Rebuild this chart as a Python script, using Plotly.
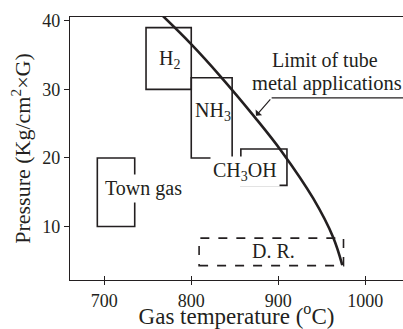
import plotly.graph_objects as go

# Operating windows of the reforming processes (gas temperature in °C, pressure in kg/cm2 G)
process_names = ["Town gas", "H<sub>2</sub>", "NH<sub>3</sub>", "CH<sub>3</sub>OH", "D. R."]
temp_low = [692, 748, 800, 857, 809]
temp_high = [735, 800, 847, 910, 975]
press_low = [10.0, 30.0, 20.0, 16.0, 4.3]
press_high = [20.0, 39.0, 31.7, 21.3, 8.3]
box_dash = ["solid", "solid", "solid", "solid", "dash"]

# Label anchor points for each window
label_x = [745, 775.5, 824.6, 861.4, 894.3]
label_y = [15.5, 34.3, 26.8, 18.0, 6.4]
label_bg = ["white", "rgba(0,0,0,0)", "rgba(0,0,0,0)", "white", "rgba(0,0,0,0)"]

# Limit of tube metal applications
limit_temp = [767.1, 799.3, 833.0, 873.2, 903.9, 940.2, 963.2, 973.6]
limit_press = [40.73, 36.67, 31.98, 25.92, 20.95, 14.09, 8.40, 4.37]

x_ticks = [700, 800, 900, 1000]
y_ticks = [10, 20, 30, 40]
x_range = [660.6, 1043.4]
y_range = [2.2, 40.55]

INK = "#231f20"
FONT = "Liberation Serif"

fig = go.Figure()

fig.add_trace(go.Scatter(
    x=limit_temp, y=limit_press, mode="lines",
    line=dict(color=INK, width=2.6, shape="spline", smoothing=1.0),
    cliponaxis=False, showlegend=False, hoverinfo="skip",
))
# invisible trace so the inner-tick overlay axis is drawn
fig.add_trace(go.Scatter(x=x_range, y=y_range, xaxis="x2", mode="markers",
                         marker=dict(opacity=0), showlegend=False, hoverinfo="skip"))

for x0, x1, y0, y1, d in zip(temp_low, temp_high, press_low, press_high, box_dash):
    fig.add_shape(type="rect", xref="x", yref="y", x0=x0, x1=x1, y0=y0, y1=y1,
                  line=dict(color=INK, width=1.6, dash=d), fillcolor="rgba(0,0,0,0)")

for name, lx, ly, bg in zip(process_names, label_x, label_y, label_bg):
    fig.add_annotation(x=lx, y=ly, xref="x", yref="y", text=name, showarrow=False,
                       font=dict(family=FONT, size=20, color=INK),
                       bgcolor=bg, borderpad=2)

# Curve caption with leader line and arrow
fig.add_annotation(x=953.7, y=34.3, xref="x", yref="y", text="Limit of tube",
                   showarrow=False, font=dict(family=FONT, size=20, color=INK))
fig.add_annotation(x=867.5, y=30.9, xref="x", yref="y", text="metal applications",
                   xanchor="left", showarrow=False,
                   font=dict(family=FONT, size=20.5, color=INK))
fig.add_shape(type="line", xref="x", yref="y", x0=892.4, x1=1043.4, y0=28.76, y1=28.76,
              line=dict(color=INK, width=1.2))
fig.add_annotation(x=874.4, y=26.16, ax=892.4, ay=28.76, xref="x", yref="y",
                   axref="x", ayref="y", text="", showarrow=True,
                   arrowhead=1, arrowsize=1.2, arrowwidth=1.2, arrowcolor=INK)

fig.update_layout(
    width=403, height=329,
    margin=dict(l=70, r=0, t=17, b=42),
    paper_bgcolor="white", plot_bgcolor="white",
    font=dict(family=FONT, color=INK),
    showlegend=False,
    xaxis=dict(
        range=x_range, tickvals=x_ticks, ticks="outside", ticklen=4, tickwidth=1.3,
        tickcolor=INK, showline=True, linecolor=INK, linewidth=1.3, mirror=True,
        showgrid=False, zeroline=False, tickfont=dict(size=18),
        title=dict(text="Gas temperature (<sup>o</sup>C)", font=dict(size=23), standoff=2),
    ),
    xaxis2=dict(
        range=x_range, tickvals=x_ticks, ticks="inside", ticklen=4, tickwidth=1.3,
        tickcolor=INK, showticklabels=False, showline=False, showgrid=False,
        zeroline=False, overlaying="x", anchor="y",
    ),
    yaxis=dict(
        range=y_range, tickvals=y_ticks, ticks="outside", ticklen=5, tickwidth=1.3,
        tickcolor=INK, showline=True, linecolor=INK, linewidth=1.3,
        showgrid=False, zeroline=False, tickfont=dict(size=18),
        title=dict(text="Pressure (Kg/cm<sup>2</sup>×G)", font=dict(size=22), standoff=5),
    ),
)

fig.write_html("out.html")
